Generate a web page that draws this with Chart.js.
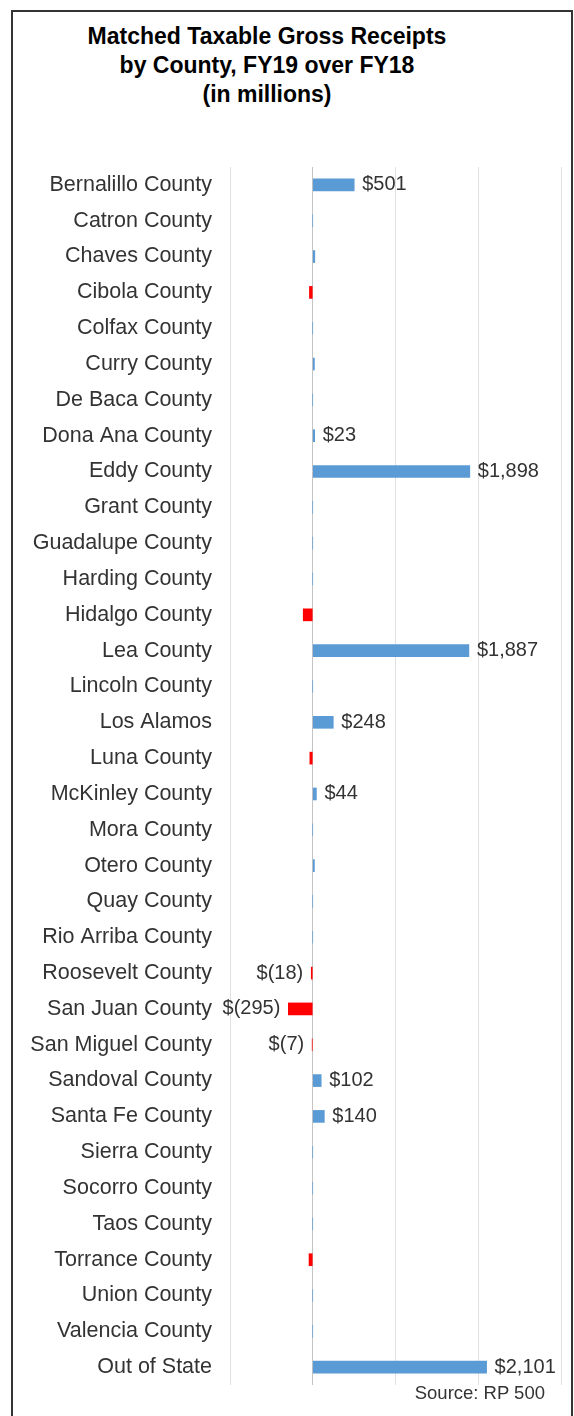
<!DOCTYPE html>
<html>
<head>
<meta charset="utf-8">
<script src="https://cdn.jsdelivr.net/npm/chart.js@4.4.1/dist/chart.umd.min.js"></script>
<style>
  body { margin: 0; background: #fff; width: 574px; height: 1416px; overflow: hidden; position: relative; font-family: "Liberation Sans", Arial, sans-serif; }
  .frame { position: absolute; left: 11px; top: 10px; width: 558px; height: 1440px; border: 2px solid #333; }
  .title { position: absolute; left: 0; width: 534px; top: 22px; text-align: center; font-weight: bold; font-size: 23px; line-height: 29px; color: #000; }
  .source { position: absolute; right: 29px; top: 1382px; font-size: 18.5px; color: #333; }
  #chart { position: absolute; left: 0; top: 0; }
</style>
</head>
<body>
<div class="frame"></div>
<div class="title">Matched Taxable Gross Receipts<br>by County, FY19 over FY18<br>(in millions)</div>
<canvas id="chart" width="574" height="1416"></canvas>
<div class="source">Source: RP 500</div>
<script>
const counties = [
  "Bernalillo County", "Catron County", "Chaves County", "Cibola County",
  "Colfax County", "Curry County", "De Baca County", "Dona Ana County",
  "Eddy County", "Grant County", "Guadalupe County", "Harding County",
  "Hidalgo County", "Lea County", "Lincoln County", "Los Alamos",
  "Luna County", "McKinley County", "Mora County", "Otero County",
  "Quay County", "Rio Arriba County", "Roosevelt County", "San Juan County",
  "San Miguel County", "Sandoval County", "Santa Fe County", "Sierra County",
  "Socorro County", "Taos County", "Torrance County", "Union County",
  "Valencia County", "Out of State"
];

// change in millions, FY19 over FY18
const change = [
  501, 0, 25, -40,
  0, 20, 0, 23,
  1898, 0, 0, 0,
  -115, 1887, 0, 248,
  -35, 44, 0, 20,
  0, 0, -18, -295,
  -7, 102, 140, 0,
  0, 0, -45, 0,
  0, 2101
];

// labels that are shown on the chart (others left blank)
const shownLabels = [
  "$501", "", "", "",
  "", "", "", "$23",
  "$1,898", "", "", "",
  "", "$1,887", "", "$248",
  "", "$44", "", "",
  "", "", "$(18)", "$(295)",
  "$(7)", "$102", "$140", "",
  "", "", "", "",
  "", "$2,101"
];

const xTicks = [-1000, 0, 1000, 2000, 3000];

const barLabels = {
  id: "barLabels",
  afterDatasetsDraw(chart) {
    const c = chart.ctx;
    const meta = chart.getDatasetMeta(0);
    c.save();
    c.font = "20px 'Liberation Sans', Arial, sans-serif";
    c.fillStyle = "#333";
    c.textBaseline = "middle";
    meta.data.forEach((bar, i) => {
      const txt = shownLabels[i];
      if (!txt) return;
      if (change[i] >= 0) {
        c.textAlign = "left";
        c.fillText(txt, Math.max(bar.x, bar.base) + 8, bar.y);
      } else {
        c.textAlign = "right";
        c.fillText(txt, Math.min(bar.x, bar.base) - 8, bar.y);
      }
    });
    c.restore();
  }
};

new Chart(document.getElementById("chart"), {
  type: "bar",
  data: {
    labels: counties,
    datasets: [{
      data: change,
      backgroundColor: change.map((v) => (v < 0 ? "#ff0000" : "#5b9bd5")),
      barThickness: 12,
      borderWidth: 0
    }]
  },
  options: {
    indexAxis: "y",
    responsive: false,
    animation: false,
    layout: { padding: { left: 0, right: 13, top: 167, bottom: 30 } },
    plugins: {
      legend: { display: false },
      tooltip: { enabled: false }
    },
    scales: {
      x: {
        min: -1000,
        max: 3000,
        afterBuildTicks: (s) => { s.ticks = xTicks.map((v) => ({ value: v })); },
        afterFit: (s) => { s.height = 0; },
        ticks: { display: false },
        border: { display: false },
        grid: {
          drawTicks: false,
          color: (ctx) => (ctx.tick && ctx.tick.value === 0 ? "#c4c4c4" : "#e0e0e0")
        }
      },
      y: {
        afterFit: (s) => { s.width = 230; },
        border: { display: false },
        grid: { display: false, drawTicks: false },
        ticks: {
          padding: 18,
          color: "#333",
          font: { family: "'Liberation Sans', Arial, sans-serif", size: 21.5 }
        }
      }
    }
  },
  plugins: [barLabels]
});
</script>
</body>
</html>
